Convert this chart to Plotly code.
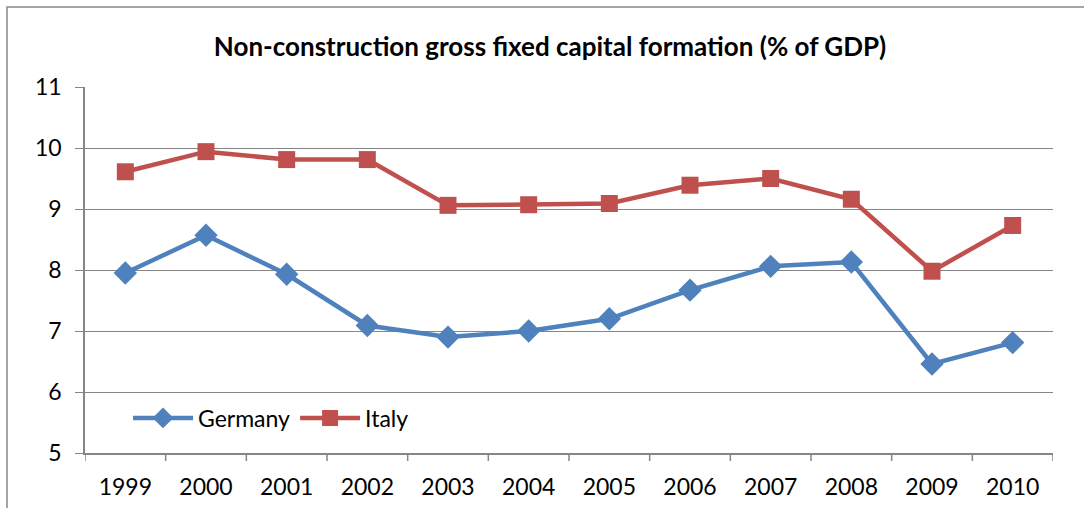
import plotly.graph_objects as go

years = ["1999", "2000", "2001", "2002", "2003", "2004", "2005", "2006", "2007", "2008", "2009", "2010"]
germany = [7.95, 8.57, 7.93, 7.09, 6.90, 7.00, 7.20, 7.67, 8.06, 8.13, 6.46, 6.81]
italy = [9.61, 9.94, 9.81, 9.81, 9.06, 9.07, 9.09, 9.39, 9.50, 9.16, 7.98, 8.73]

W, H = 1084, 508
L, R, T, B = 85, 31, 87, 55
pw, ph = W - L - R, H - T - B
FONT = "Lato, 'Open Sans', sans-serif"

xs = list(range(len(years)))

fig = go.Figure()
fig.add_trace(go.Scatter(
    x=xs, y=germany, name="Germany", mode="lines+markers",
    line=dict(color="#4F81BD", width=4.5),
    marker=dict(symbol="diamond", size=18, color="#4F81BD"),
))
fig.add_trace(go.Scatter(
    x=xs, y=italy, name="Italy", mode="lines+markers",
    line=dict(color="#C0504D", width=4.5),
    marker=dict(symbol="square", size=17, color="#C0504D"),
))

fig.update_layout(
    width=W, height=H,
    margin=dict(l=L, r=R, t=T, b=B),
    paper_bgcolor="white", plot_bgcolor="white",
    font=dict(family=FONT, size=23, color="black"),
    title=dict(text="<b>Non-construction gross fixed capital formation (% of GDP)</b>",
               x=550 / W, xanchor="center", y=1 - 47 / H, yanchor="middle",
               font=dict(family=FONT, size=26, color="black")),
    showlegend=True,
    legend=dict(orientation="h", x=(128 - L) / pw, y=(H - B - 418) / ph,
                xanchor="left", yanchor="middle", bgcolor="rgba(0,0,0,0)",
                font=dict(family=FONT, size=23), itemwidth=60, tracegroupgap=0),
    xaxis=dict(range=[-0.5, len(years) - 0.5], tickmode="array", tickvals=xs, ticktext=years,
               showgrid=False, showline=True, linecolor="#868686", linewidth=1.5,
               ticks="", zeroline=False, tickfont=dict(size=23), ticklabelstandoff=13,
               automargin=False),
    yaxis=dict(range=[5, 11], dtick=1, showgrid=True, gridcolor="#868686", gridwidth=1.2,
               showline=True, linecolor="#868686", linewidth=1.5, ticks="outside",
               ticklen=8, tickcolor="#868686", zeroline=False, tickfont=dict(size=23),
               ticklabelstandoff=9, automargin=False),
)

# category boundary tick marks on the x axis
for i in range(len(years) + 1):
    fig.add_shape(type="line", xref="x", yref="paper", x0=i - 0.5, x1=i - 0.5,
                  y0=0, y1=-8 / ph, line=dict(color="#868686", width=1.5))

# outer chart border
fig.add_shape(type="rect", xref="paper", yref="paper",
              x0=(7 - L) / pw, x1=(W + 5 - L) / pw, y0=(H - B - (H + 5)) / ph, y1=(H - B - 7) / ph,
              line=dict(color="#888888", width=1.5), fillcolor="rgba(0,0,0,0)", layer="below")

fig.write_html("out.html")
